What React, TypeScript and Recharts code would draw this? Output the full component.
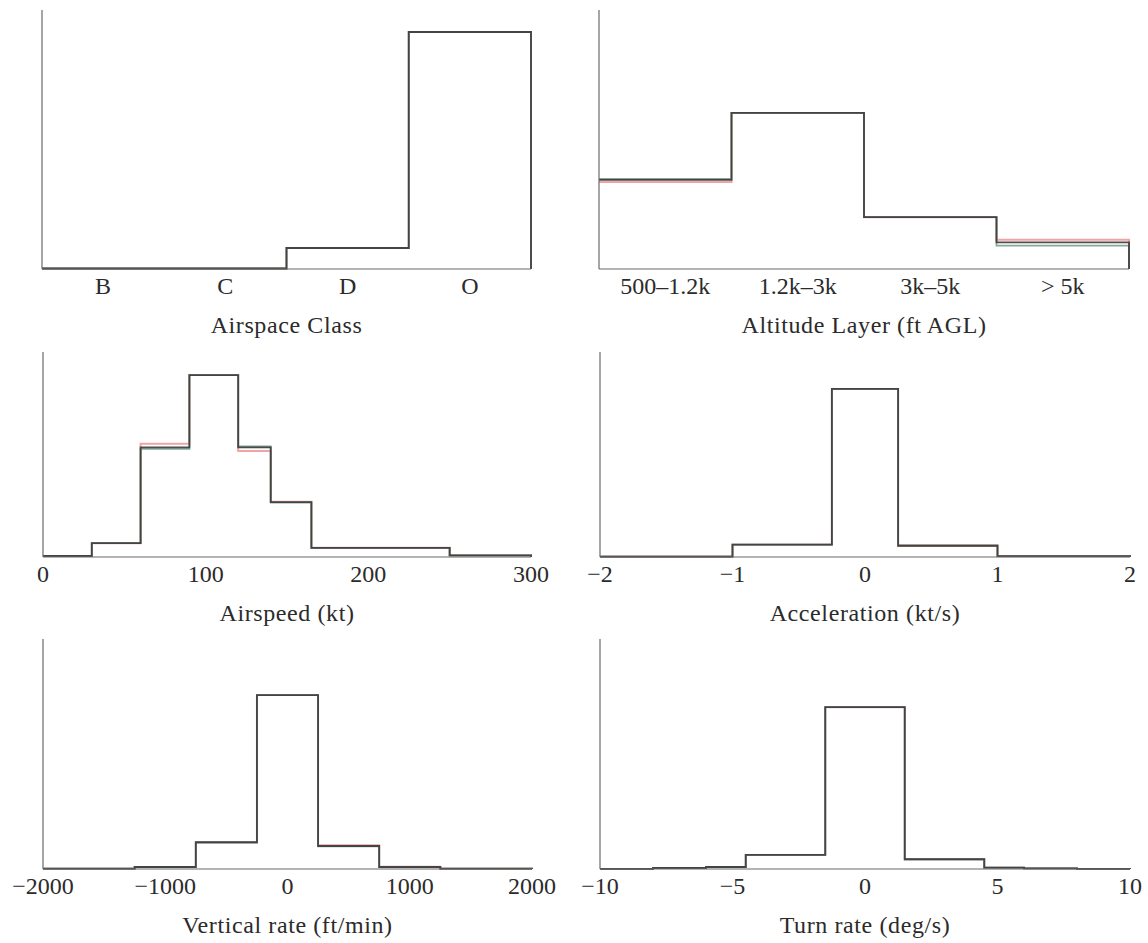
import { LineChart, Line, XAxis, YAxis } from 'recharts';

const FONT = '"Liberation Serif", "Times New Roman", serif';
const INK = '#2b2b2b';

// Airspace class
const airspaceLabels = ['B', 'C', 'D', 'O'];
const airspaceEdges = [0, 1, 2, 3, 4];
const airspaceBlack = [0.002, 0.002, 0.081, 0.915];
const airspaceRed = [0.002, 0.002, 0.081, 0.915];
const airspaceGreen = [0.002, 0.002, 0.081, 0.915];

// Altitude layer
const altitudeLabels = ['500–1.2k', '1.2k–3k', '3k–5k', '> 5k'];
const altitudeEdges = [0, 1, 2, 3, 4];
const altitudeBlack = [0.275, 0.482, 0.16, 0.082];
const altitudeRed = [0.269, 0.482, 0.16, 0.09];
const altitudeGreen = [0.278, 0.482, 0.16, 0.072];

// Airspeed
const airspeedTicks = [0, 100, 200, 300];
const airspeedEdges = [0, 30, 60, 90, 120, 140, 165, 250, 300];
const airspeedBlack = [0.002, 0.027, 0.214, 0.355, 0.214, 0.107, 0.018, 0.003];
const airspeedRed = [0.002, 0.027, 0.221, 0.355, 0.207, 0.108, 0.018, 0.003];
const airspeedGreen = [0.002, 0.027, 0.211, 0.355, 0.216, 0.106, 0.018, 0.003];

// Acceleration
const accelTicks = [-2, -1, 0, 1, 2];
const accelEdges = [-2, -1, -0.25, 0.25, 1, 2];
const accelBlack = [0.002, 0.06, 0.82, 0.055, 0.004];
const accelRed = [0.002, 0.06, 0.82, 0.057, 0.004];
const accelGreen = [0.002, 0.06, 0.82, 0.055, 0.004];

// Vertical rate
const vrateTicks = [-2000, -1000, 0, 1000, 2000];
const vrateEdges = [-2000, -1250, -750, -250, 250, 750, 1250, 2000];
const vrateBlack = [0.001, 0.007, 0.093, 0.605, 0.08, 0.007, 0.001];
const vrateRed = [0.001, 0.007, 0.093, 0.605, 0.083, 0.008, 0.001];
const vrateGreen = [0.001, 0.007, 0.092, 0.605, 0.079, 0.007, 0.001];

// Turn rate
const turnTicks = [-10, -5, 0, 5, 10];
const turnEdges = [-10, -8, -6, -4.5, -1.5, 1.5, 4.5, 6, 8, 10];
const turnBlack = [0.0003, 0.0035, 0.007, 0.049, 0.563, 0.034, 0.0045, 0.0024, 0.0003];
const turnRed = [0.0003, 0.0035, 0.007, 0.049, 0.563, 0.034, 0.0045, 0.0024, 0.0003];
const turnGreen = [0.0003, 0.0035, 0.007, 0.049, 0.563, 0.034, 0.0045, 0.0024, 0.0003];

function stepData(edges: number[], black: number[], red: number[], green: number[]) {
  const pts = black.map((b, i) => ({ x: edges[i], black: b, red: red[i], green: green[i] }));
  const n = black.length;
  pts.push({ x: edges[n], black: black[n - 1], red: red[n - 1], green: green[n - 1] });
  pts.push({ x: edges[n], black: 0, red: 0, green: 0 });
  return pts;
}

const fmtNum = (v: number) => (v < 0 ? '−' + Math.abs(v) : String(v));

interface PanelProps {
  left: number;
  top: number;
  w: number;
  h: number;
  data: any[];
  domainX: [number, number];
  ymax: number;
  ticks: number[];
  fmt: (v: number) => string;
  title: string;
}

function Panel({ left, top, w, h, data, domainX, ymax, ticks, fmt, title }: PanelProps) {
  const ml = 45;
  const mt = 10;
  const axisH = 70;
  const yw = 2;
  return (
    <div style={{ position: 'absolute', left: left - ml, top: top - mt }}>
      <LineChart
        width={w + 2 * ml}
        height={h + mt + axisH}
        data={data}
        margin={{ top: mt, right: ml, bottom: 0, left: ml - yw }}
      >
        <XAxis
          type="number"
          dataKey="x"
          domain={domainX}
          ticks={ticks}
          interval={0}
          tickFormatter={fmt}
          tickLine={false}
          axisLine={{ stroke: '#6a6a6a', strokeWidth: 1.2 }}
          tick={{ fontSize: 24, fontFamily: FONT, fill: INK }}
          height={axisH}
          label={{
            value: title,
            position: 'insideBottom',
            offset: 6,
            fontSize: 24,
            fontFamily: FONT,
            fill: INK,
            letterSpacing: 0.6,
          }}
        />
        <YAxis
          type="number"
          domain={[0, ymax]}
          width={yw}
          tick={false}
          tickLine={false}
          axisLine={{ stroke: '#6a6a6a', strokeWidth: 1.2 }}
        />
        <Line type="stepAfter" dataKey="red" stroke="#f2a3a3" strokeWidth={2} dot={false} isAnimationActive={false} />
        <Line type="stepAfter" dataKey="green" stroke="#86a898" strokeWidth={1.8} dot={false} isAnimationActive={false} />
        <Line type="stepAfter" dataKey="black" stroke="#3a3a3a" strokeWidth={1.8} strokeOpacity={0.9} dot={false} isAnimationActive={false} />
      </LineChart>
    </div>
  );
}

export default function App() {
  const catFmt = (labels: string[]) => (v: number) => labels[Math.floor(v)] ?? '';
  return (
    <div style={{ position: 'absolute', left: 0, top: 0, width: 1148, height: 943, background: '#fff' }}>
      <Panel
        left={42} top={10} w={489} h={259}
        data={stepData(airspaceEdges, airspaceBlack, airspaceRed, airspaceGreen)}
        domainX={[0, 4]} ymax={1}
        ticks={[0.5, 1.5, 2.5, 3.5]} fmt={catFmt(airspaceLabels)}
        title="Airspace Class"
      />
      <Panel
        left={599} top={10} w={530} h={259}
        data={stepData(altitudeEdges, altitudeBlack, altitudeRed, altitudeGreen)}
        domainX={[0, 4]} ymax={0.8}
        ticks={[0.5, 1.5, 2.5, 3.5]} fmt={catFmt(altitudeLabels)}
        title="Altitude Layer (ft AGL)"
      />
      <Panel
        left={43} top={352} w={488} h={205}
        data={stepData(airspeedEdges, airspeedBlack, airspeedRed, airspeedGreen)}
        domainX={[0, 300]} ymax={0.4}
        ticks={airspeedTicks} fmt={fmtNum}
        title="Airspeed (kt)"
      />
      <Panel
        left={600} top={352} w={530} h={205}
        data={stepData(accelEdges, accelBlack, accelRed, accelGreen)}
        domainX={[-2, 2]} ymax={1}
        ticks={accelTicks} fmt={fmtNum}
        title="Acceleration (kt/s)"
      />
      <Panel
        left={43} top={639} w={489} h={230}
        data={stepData(vrateEdges, vrateBlack, vrateRed, vrateGreen)}
        domainX={[-2000, 2000]} ymax={0.8}
        ticks={vrateTicks} fmt={fmtNum}
        title="Vertical rate (ft/min)"
      />
      <Panel
        left={600} top={639} w={530} h={230}
        data={stepData(turnEdges, turnBlack, turnRed, turnGreen)}
        domainX={[-10, 10]} ymax={0.8}
        ticks={turnTicks} fmt={fmtNum}
        title="Turn rate (deg/s)"
      />
    </div>
  );
}
